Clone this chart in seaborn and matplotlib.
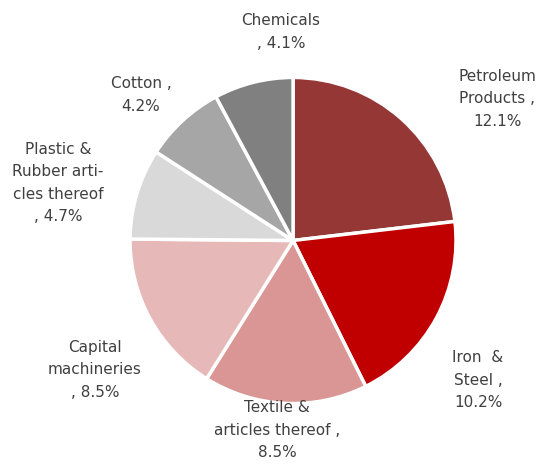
import matplotlib
matplotlib.use("Agg")
import matplotlib.pyplot as plt
import seaborn as sns

categories = ["Petroleum\nProducts ,\n12.1%", "Iron  &\nSteel ,\n10.2%",
              "Textile &\narticles thereof ,\n8.5%", "Capital\nmachineries\n, 8.5%",
              "Plastic &\nRubber arti-\ncles thereof\n, 4.7%", "Cotton ,\n4.2%",
              "Chemicals\n, 4.1%"]
values = [12.1, 10.2, 8.5, 8.5, 4.7, 4.2, 4.1]
colors = ["#953735", "#C00000", "#D99694", "#E6B9B8", "#D9D9D9", "#A6A6A6", "#808080"]

# label anchor positions (in pie-radius units)
label_pos = [(1.252, 0.868), (1.135, -0.856), (-0.098, -1.163), (-1.215, -0.794),
             (-1.442, 0.353), (-0.933, 0.893), (-0.074, 1.279)]

sns.set_theme(style="white")
plt.rcParams['font.family'] = ['DejaVu Sans']

fig = plt.figure(figsize=(5.45, 4.73), dpi=100)
ax = fig.add_axes([0, 0, 1, 1])
ax.pie(values, colors=colors, startangle=90, counterclock=False, radius=1.0,
       wedgeprops=dict(edgecolor="white", linewidth=2.5))
for lab, (x, y) in zip(categories, label_pos):
    ax.text(x, y, lab, ha="center", va="center", fontsize=11, color="#404040",
            linespacing=1.62)
ax.set_xlim(-1.798, 1.546)
ax.set_ylim(-1.426, 1.475)
ax.set_aspect("auto")
ax.axis("off")
fig.savefig("out.png", dpi=100)
